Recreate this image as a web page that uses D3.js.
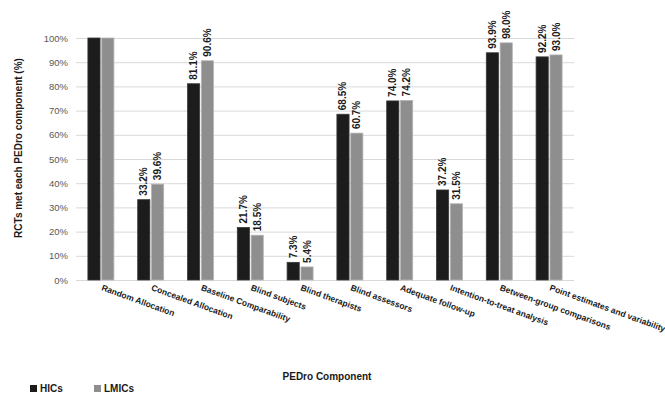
<!DOCTYPE html>
<html>
<head>
<meta charset="utf-8">
<script src="https://cdn.jsdelivr.net/npm/d3@7"></script>
<style>
  html, body { margin: 0; padding: 0; background: #fff; }
  svg { display: block; font-family: "Liberation Sans", Arial, sans-serif; }
</style>
</head>
<body>
<svg id="chart" width="665" height="394"></svg>
<script>
// PEDro components assessed in the RCTs
const categories = [
  "Random Allocation", "Concealed Allocation", "Baseline Comparability",
  "Blind subjects", "Blind therapists", "Blind assessors",
  "Adequate follow-up", "Intention-to-treat analysis",
  "Between-group comparisons", "Point estimates and variability"
];
// Percentage of RCTs meeting each component
const hicsValues  = [100, 33.2, 81.1, 21.7, 7.3, 68.5, 74.0, 37.2, 93.9, 92.2];
const lmicsValues = [100, 39.6, 90.6, 18.5, 5.4, 60.7, 74.2, 31.5, 98.0, 93.0];
const seriesNames = ["HICs", "LMICs"];
const yTicks = [0, 10, 20, 30, 40, 50, 60, 70, 80, 90, 100];

const series = [
  { name: seriesNames[0], values: hicsValues, fill: "#1c1c1c", stroke: "#3a3a3a" },
  { name: seriesNames[1], values: lmicsValues, fill: "#8e8e8e", stroke: "#b4b4b4" }
];

const svg = d3.select("#chart");
const plot = { left: 76, right: 574, top: 38, bottom: 280 };

const x = d3.scaleBand().domain(categories).range([plot.left, plot.right]).paddingInner(0).paddingOuter(0);
const xSub = d3.scaleBand().domain(seriesNames).range([x.bandwidth() / 2 - 13, x.bandwidth() / 2 + 13]).paddingInner(0.12);
const y = d3.scaleLinear().domain([0, 100]).range([plot.bottom, plot.top]);

// horizontal gridlines + tick labels
const yAxis = d3.axisLeft(y).tickValues(yTicks).tickSize(-(plot.right - plot.left)).tickFormat(d => d + "%").tickPadding(8);
const gy = svg.append("g").attr("transform", `translate(${plot.left},0)`).call(yAxis);
gy.select(".domain").remove();
gy.selectAll(".tick line").attr("stroke", "#d9d9d9").attr("stroke-width", 1);
gy.selectAll(".tick text").attr("fill", "#595959").attr("font-size", 9.5);

// bars
const groups = svg.append("g").selectAll("g").data(categories).join("g")
  .attr("transform", d => `translate(${x(d)},0)`);

series.forEach(s => {
  groups.append("rect")
    .attr("x", xSub(s.name))
    .attr("width", xSub.bandwidth())
    .attr("y", (d, i) => y(s.values[i]))
    .attr("height", (d, i) => y(0) - y(s.values[i]))
    .attr("fill", s.fill)
    .attr("stroke", s.stroke)
    .attr("stroke-width", 0.8);

  // value labels above each bar (full-height bars have no room for one)
  groups.filter((d, i) => s.values[i] < 100)
    .append("text")
    .attr("transform", (d) => {
      const i = categories.indexOf(d);
      const cx = xSub(s.name) + xSub.bandwidth() / 2;
      return `translate(${cx + 3.5},${y(s.values[i]) - 4}) rotate(-90)`;
    })
    .attr("text-anchor", "start")
    .attr("font-size", 10)
    .attr("font-weight", "bold")
    .attr("fill", "#1a1a1a")
    .text(d => s.values[categories.indexOf(d)].toFixed(1) + "%");
});

// category labels, slanted
svg.append("g").selectAll("text").data(categories).join("text")
  .attr("transform", d => `translate(${x(d) + x.bandwidth() / 2},${plot.bottom + 10}) rotate(20)`)
  .attr("text-anchor", "start")
  .attr("font-size", 8.5)
  .attr("font-weight", "bold")
  .attr("fill", "#1a1a1a")
  .text(d => d);

// axis titles
svg.append("text")
  .attr("transform", `translate(22,148) rotate(-90)`)
  .attr("text-anchor", "middle")
  .attr("font-size", 10)
  .attr("font-weight", "bold")
  .attr("fill", "#1a1a1a")
  .text("RCTs met each PEDro component (%)");

svg.append("text")
  .attr("x", 327).attr("y", 380)
  .attr("text-anchor", "middle")
  .attr("font-size", 10)
  .attr("font-weight", "bold")
  .attr("fill", "#1a1a1a")
  .text("PEDro Component");

// legend
const legend = svg.append("g").selectAll("g").data(series).join("g")
  .attr("transform", (d, i) => `translate(${30 + i * 64},385)`);
legend.append("rect").attr("width", 7).attr("height", 7).attr("fill", d => d.fill);
legend.append("text").attr("x", 10).attr("y", 7)
  .attr("font-size", 10).attr("font-weight", "bold").attr("fill", "#1a1a1a")
  .text(d => d.name);
</script>
</body>
</html>
